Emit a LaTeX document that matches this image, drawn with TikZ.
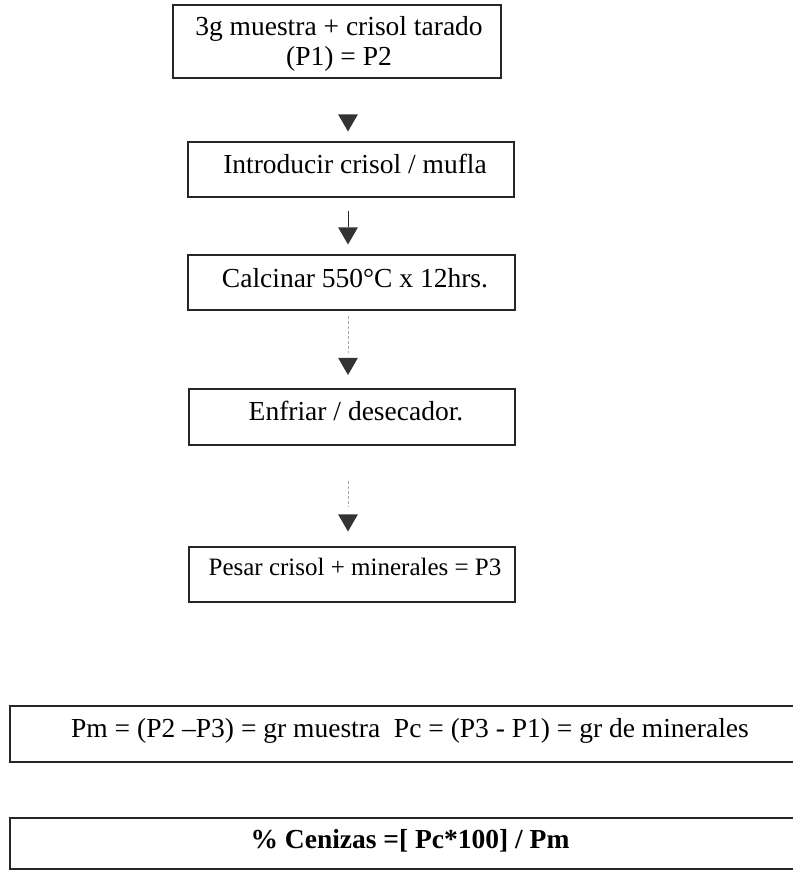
\documentclass[tikz,border=0pt]{standalone}
\usepackage{fontspec}
\setmainfont{Liberation Serif}
\usetikzlibrary{shapes.geometric}
\tikzset{
  boxnode/.style={draw=black!85, line width=1.2pt, rectangle, inner sep=0pt},
  txt/.style={anchor=base, inner sep=0pt, font=\fontsize{27.5}{33}\selectfont},
  txtsmall/.style={anchor=base, inner sep=0pt, font=\fontsize{25}{30}\selectfont},
  txtbold/.style={anchor=base, inner sep=0pt, font=\fontsize{27.5}{33}\selectfont\bfseries},
  tri/.style={regular polygon, regular polygon sides=3, shape border rotate=180, fill=black!80, draw=none, inner sep=0pt, minimum size=23pt},
  solidline/.style={draw=black!85, line width=0.9pt},
  faintline/.style={draw=black!35, line width=0.6pt, densely dashed}
}
\begin{document}
\begin{tikzpicture}[x=1pt,y=-1pt]
\useasboundingbox (0,0) rectangle (793,871);
% boxes
\node[boxnode, minimum width=328pt, minimum height=73pt] (b1) at (337,41.5) {};
\node[boxnode, minimum width=326pt, minimum height=55pt] (b2) at (351,169.5) {};
\node[boxnode, minimum width=327pt, minimum height=55pt] (b3) at (351.5,282.5) {};
\node[boxnode, minimum width=326pt, minimum height=56pt] (b4) at (352,417) {};
\node[boxnode, minimum width=326pt, minimum height=55pt] (b5) at (352,574.5) {};
\node[boxnode, minimum width=800pt, minimum height=56pt] (b6) at (410,734) {};
\node[boxnode, minimum width=800pt, minimum height=51pt] (b7) at (410,843.5) {};
% texts
\node[txt] (l1a) at (339,35) {3g muestra + crisol tarado};
\node[txt] (l1b) at (339,65) {(P1) = P2};
\node[txt] (l2) at (355,173) {Introducir crisol / mufla};
\node[txt] (l3) at (355,287) {Calcinar 550°C x 12hrs.};
\node[txt] (l4) at (356,420) {Enfriar / desecador.};
\node[txtsmall] (l5) at (355,575) {Pesar crisol + minerales = P3};
\node[txt] (l6) at (410,737) {Pm = (P2 –P3) = gr muestra\ \ Pc = (P3 - P1) = gr de minerales};
\node[txtbold] (l7) at (410,848) {\% Cenizas =[ Pc*100] / Pm};
% arrow heads
\node[tri] (t1) at (348,120) {};
\node[tri] (t2) at (348,233) {};
\node[tri] (t3) at (348,363.5) {};
\node[tri] (t4) at (348,520) {};
% connector shafts
\draw[solidline] ([yshift=-13pt]b2.south -| t2.north) -- (t2.north);
\draw[faintline] ([yshift=-5pt]b3.south -| t3.north) -- ([yshift=5pt]t3.north);
\draw[faintline] ([yshift=-35pt]b4.south -| t4.north) -- ([yshift=8pt]t4.north);
\end{tikzpicture}
\end{document}
